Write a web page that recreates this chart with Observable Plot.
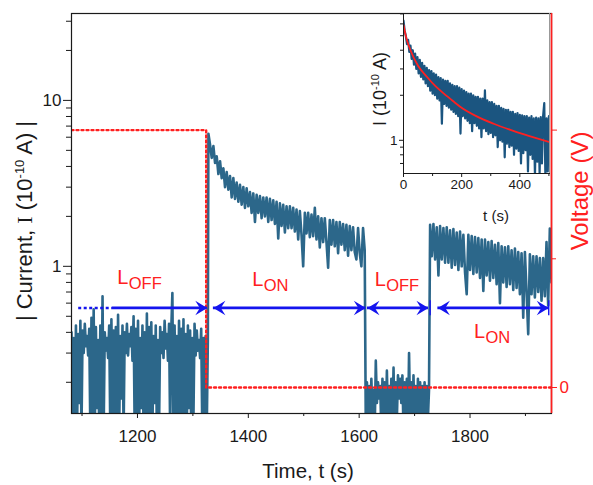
<!DOCTYPE html>
<html><head><meta charset="utf-8">
<script src="https://cdn.jsdelivr.net/npm/d3@7"></script>
<script src="https://cdn.jsdelivr.net/npm/@observablehq/plot@0.6"></script>
<style>
body{margin:0;background:#fff;}
#wrap{position:relative;width:593px;height:485px;}
#wrap svg{position:absolute;}
</style></head><body><div id="wrap"></div>
<script>
// ---------- data ----------
const xDomain = [1081, 1947];
const yDomain = [0.1297, 33.4];
const vDomain = [-0.101, 1.453];
const xMajor = [1200, 1400, 1600, 1800];
const xMinor = [1100, 1300, 1500, 1700, 1900];
const yMajor = [1, 10];
const yMinor = [0.2,0.3,0.4,0.5,0.6,0.7,0.8,0.9,2,3,4,5,6,7,8,9,20,30];
const vMajor = [0, 1];
const vMinor = [0.5];

// current trace (segments: L_OFF, L_ON, L_OFF, L_ON)
const segOff1 = {start: 1081, step: 2, values: [
0.40,0.10,0.37,0.12,0.44,0.10,0.39,0.15,0.47,0.10,
0.41,0.30,0.45,0.33,0.38,0.29,0.42,0.10,0.49,0.12,
0.55,0.10,0.43,0.14,0.36,0.10,0.44,0.11,0.66,0.10,
0.40,0.31,0.37,0.28,0.44,0.10,0.48,0.13,0.41,0.10,
0.43,0.11,0.51,0.10,0.38,0.16,0.44,0.10,0.40,0.30,
0.45,0.29,0.39,0.33,0.43,0.27,0.50,0.10,0.42,0.12,
0.47,0.10,0.37,0.14,0.44,0.10,0.40,0.11,0.52,0.10,
0.43,0.12,0.46,0.10,0.38,0.15,0.44,0.10,0.36,0.11,
0.43,0.30,0.40,0.28,0.47,0.32,0.39,0.27,0.45,0.10,
0.42,0.69,0.10,0.44,0.12,0.38,0.10,0.47,0.13,0.42,
0.10,0.48,0.11,0.39,0.10,0.44,0.14,0.41,0.10,0.37,
0.12,0.45,0.29,0.41,0.31,0.36,0.28,0.42,0.10,0.37,
0.12,0.38,0.10,0.36]};
const segOn1 = {start: 1328, step: 3, values: [
6.3,5.4,4.5,5.3,4.2,4.6,3.6,4.3,3.4,3.9,3.0,3.7,2.9,3.5,2.6,3.4,2.55,3.2,2.45,3.1,
2.35,3.0,2.25,2.95,2.3,2.8,2.1,2.75,1.85,2.7,2.1,2.65,1.95,2.6,2.0,2.6,1.85,2.55,1.9,2.5,
1.8,2.45,1.47,2.4,1.75,2.35,1.6,2.3,1.7,2.3,1.7,2.25,1.62,2.2,1.45,2.15,1.55,1.0,2.1,1.58,
2.1,1.5,2.05,1.52,2.25,1.45,2.0,1.3,1.95,1.4,1.95,1.4,0.98,1.9,1.35,1.9,1.32,1.85,1.2,1.85,
1.35,1.8,1.25,1.78,1.16,1.75,1.25,1.72,1.22,1.1,1.7,1.2,1.0,1.7,1.25]};
const segOff2 = {start: 1612, step: 2, values: [
0.10,0.20,0.11,0.19,0.10,0.21,0.12,0.18,0.10,0.27,
0.15,0.20,0.16,0.19,0.10,0.21,0.11,0.20,0.10,0.235,
0.12,0.19,0.10,0.21,0.11,0.245,0.10,0.20,0.12,0.22,
0.16,0.21,0.15,0.22,0.10,0.20,0.11,0.21,0.10,0.30,
0.12,0.20,0.10,0.22,0.11,0.19,0.10,0.21,0.12,0.20,
0.10,0.19,0.11,0.20,0.10,0.19,0.12,0.18]};
const segOn2 = {start: 1728, step: 3, values: [
1.78,1.15,1.8,1.1,1.72,0.88,1.75,1.1,1.7,1.05,1.72,1.05,1.65,0.98,1.68,1.02,1.6,0.95,1.62,1.0,
1.55,0.92,0.68,1.55,0.95,1.52,0.9,1.5,0.92,1.48,0.85,1.45,0.71,1.45,0.88,1.4,0.82,1.42,0.85,1.35,
0.78,1.38,0.6,1.32,0.8,1.3,0.75,1.32,0.78,1.25,0.72,1.28,0.74,1.22,0.68,1.2,0.49,1.22,0.7,0.39,
1.18,0.68,1.15,0.65,1.15,0.7,1.12,0.62,1.12,0.66,1.4,0.58,1.69,0.8]};

// applied voltage (V)
const voltageT = [1081, 1324, 1324, 1947];
const voltageV = [1, 1, 0, 0];

// annotation arrows (time, s) and their level (current units)
const arrowLevel = 0.561;
const arrowTickLow = 0.504, arrowTickHigh = 0.621;
const arrowSolid = [[1155, 1326], [1337, 1612], [1615, 1725], [1742, 1942]];
const arrowDotted = [[1094, 1155]];
const arrowHeadT = [1326, 1337, 1612, 1615, 1725, 1742, 1942];
const arrowHeadDir = ["right", "left", "right", "left", "right", "left", "right"];
const arrowStops = [1728, 1942];

// labels L_OFF / L_ON
const labelT = [1163.5, 1407, 1628, 1807];
const labelI = [0.783, 0.765, 0.765, 0.370];
const labelSub = ["OFF", "ON", "OFF", "ON"];

// inset: decay of current under light, sampled every 4 s
const insetStart = 0, insetStep = 4;
const insetValues = [
6.3,5.4,5.0,4.4,4.7,3.9,4.3,3.5,4.0,3.2,3.8,3.0,3.6,2.8,3.45,2.65,3.3,2.55,3.15,2.4,
3.05,2.3,2.95,2.15,2.9,2.05,2.8,2.0,2.75,1.9,2.65,1.85,2.6,1.29,2.55,1.75,2.5,1.7,2.5,1.65,
2.4,1.6,2.35,1.55,2.3,1.5,2.3,1.45,2.25,1.11,2.2,1.45,2.15,1.4,2.1,1.35,2.05,1.3,2.05,1.15,
2.0,1.3,1.95,1.25,1.95,1.2,1.9,1.05,1.9,1.2,2.16,1.15,1.85,1.1,1.8,1.12,1.8,1.05,1.75,1.08,
1.7,0.9,1.7,1.0,1.65,0.98,1.62,0.77,1.6,0.95,1.6,0.9,1.55,0.92,1.55,0.8,1.5,0.88,1.52,0.85,
1.48,0.7,1.47,0.82,1.45,0.86,1.45,0.62,1.42,0.8,1.45,0.75,1.4,0.58,1.42,0.72,1.4,0.6,1.43,0.7,
1.45,1.77,0.55,1.4,0.62,1.45];
const fitT = [0, 10, 24, 50, 81, 110, 139, 170, 196, 250, 310, 370, 425, 500];
const fitI = [5.9, 4.8, 4.0, 3.15, 2.65, 2.3, 2.05, 1.83, 1.67, 1.45, 1.29, 1.17, 1.08, 0.975];
const insetX = [0, 502];
const insetY = [0.6, 7.04];
const insetXMajor = [0, 200, 400];
const insetXMinor = [100, 300, 500];
const insetYMajor = [1];
const insetYMinor = [0.7, 0.8, 0.9, 2, 3, 4, 5, 6, 7];

// ---------- build ----------
const FONT = '"Liberation Sans", Arial, Helvetica, sans-serif';
const BLUE = "#1414ee", RED = "#ff2020", TRACE = "#2c678a", TRACE2 = "#1b5580", INK = "#1a1a1a";

const expand = s => s.values.map((v, k) => ({t: s.start + k * s.step, i: v}));
const mainData = [segOff1, segOn1, segOff2, segOn2].flatMap(expand);
const voltage = voltageT.map((t, k) => ({t, v: voltageV[k]}));
const lg = d3.scaleLinear().domain(vDomain).range(yDomain.map(Math.log10));
const vToI = v => 10 ** lg(v);
const iToV = i => lg.invert(Math.log10(i));
const heads = arrowHeadT.map((t, k) => ({t, dir: arrowHeadDir[k]}));
const labels = labelT.map((t, k) => ({t, i: labelI[k], sub: labelSub[k]}));
const insetData = insetValues.map((v, k) => ({t: insetStart + k * insetStep, i: v}));
const fit = fitT.map((t, k) => ({t, i: fitI[k]}));

const headSym = {draw(ctx, size) {
  const r = Math.sqrt(size / Math.PI);
  ctx.moveTo(0, 0); ctx.lineTo(-r, -0.6 * r); ctx.lineTo(-0.62 * r, 0); ctx.lineTo(-r, 0.6 * r); ctx.closePath();
}};

const main = Plot.plot({
  width: 593, height: 485, marginLeft: 71, marginRight: 42, marginTop: 13, marginBottom: 72,
  style: {fontFamily: FONT, color: INK, background: "transparent"},
  x: {domain: xDomain},
  y: {type: "log", domain: yDomain},
  marks: [
    Plot.axisX(xMajor, {tickSize: 5, tickPadding: 11, fontSize: 17, tickFormat: d => String(d), label: null}),
    Plot.axisX(xMinor, {tickSize: 3, tickFormat: () => "", label: null}),
    Plot.axisY(yMajor, {tickSize: 8, tickPadding: 2, fontSize: 17, tickFormat: d => String(d), label: null}),
    Plot.axisY(yMinor, {tickSize: 5, tickFormat: () => "", label: null}),
    Plot.axisY(vMajor.map(vToI), {anchor: "right", tickSize: 5, tickPadding: 3, fontSize: 17, color: RED,
      tickFormat: d => String(Math.round(iToV(d))), label: null}),
    Plot.axisY(vMinor.map(vToI), {anchor: "right", tickSize: 4, color: RED, tickFormat: () => "", label: null}),
    Plot.line(mainData, {x: "t", y: "i", stroke: TRACE, strokeWidth: 2.6, clip: true}),
    Plot.line(voltage, {x: "t", y: d => vToI(d.v), stroke: RED, strokeWidth: 2.4, strokeDasharray: "2,3", clip: true}),
    Plot.ruleY(arrowDotted, {y: () => arrowLevel, x1: d => d[0], x2: d => d[1], stroke: BLUE, strokeWidth: 2.6, strokeDasharray: "3,2.5"}),
    Plot.ruleY(arrowSolid, {y: () => arrowLevel, x1: d => d[0], x2: d => d[1], stroke: BLUE, strokeWidth: 2.8}),
    Plot.ruleX(arrowStops, {x: d => d, y1: () => arrowTickLow, y2: () => arrowTickHigh, stroke: BLUE, strokeWidth: 1.4}),
    Plot.dot(heads, {x: "t", y: () => arrowLevel, symbol: headSym, r: 12, fill: BLUE, stroke: "none",
      rotate: d => d.dir === "right" ? 0 : 180}),
    Plot.text(labels, {x: "t", y: "i", text: () => "L", fontSize: 20, fill: RED, textAnchor: "start", lineAnchor: "bottom"}),
    Plot.text(labels, {x: "t", y: "i", text: "sub", fontSize: 16.5, fill: RED, textAnchor: "start", lineAnchor: "bottom", dx: 11.5, dy: 5}),
    Plot.frame({stroke: INK, strokeWidth: 1.2}),
    Plot.ruleX([xDomain[1]], {stroke: RED, strokeWidth: 1.7})
  ]
});

const inset = Plot.plot({
  width: 210, height: 230, marginLeft: 60, marginRight: 4, marginTop: 13, marginBottom: 57,
  style: {fontFamily: FONT, color: INK, background: "transparent", overflow: "visible"},
  x: {domain: insetX},
  y: {type: "log", domain: insetY},
  marks: [
    Plot.axisX(insetXMajor, {tickSize: 4, tickPadding: 2, fontSize: 13.5, tickFormat: d => String(d), label: null}),
    Plot.axisX(insetXMinor, {tickSize: 3, tickFormat: () => "", label: null}),
    Plot.axisY(insetYMajor, {tickSize: 4, tickPadding: 2, fontSize: 13.5, tickFormat: d => String(d), label: null}),
    Plot.axisY(insetYMinor, {tickSize: 3, tickFormat: () => "", label: null}),
    Plot.line(insetData, {x: "t", y: "i", stroke: TRACE2, strokeWidth: 2.2, clip: true}),
    Plot.line(fit, {x: "t", y: "i", stroke: RED, strokeWidth: 1.8, curve: "monotone-x", clip: true}),
    Plot.frame({stroke: INK, strokeWidth: 1}),
    Plot.ruleX([insetX[1]], {stroke: "#999", strokeWidth: 1})
  ]
});

const wrap = document.getElementById("wrap");
main.style.left = "0px"; main.style.top = "0px";
inset.style.left = "343px"; inset.style.top = "0px";
wrap.appendChild(main);
wrap.appendChild(inset);

function addText(svg, {x, y, rotate = 0, anchor = "middle", size, fill = INK, parts}) {
  const t = d3.select(svg).append("text")
    .attr("transform", `translate(${x},${y}) rotate(${rotate})`)
    .attr("text-anchor", anchor).attr("font-size", size).attr("fill", fill)
    .attr("font-family", FONT).style("white-space", "pre");
  for (const p of parts) {
    const s = t.append("tspan").text(p.text);
    if (p.size) s.attr("font-size", p.size);
    if (p.dy) s.attr("dy", p.dy);
    if (p.family) s.attr("font-family", p.family);
  }
}
addText(main, {x: 32, y: 221, rotate: -90, size: 22, parts: [
  {text: "| Current, "}, {text: "I", family: '"Liberation Serif", serif'}, {text: " (10"},
  {text: "-10", size: 13, dy: -8}, {text: " A) |", dy: 8}]});
addText(main, {x: 308, y: 478, size: 20.5, parts: [{text: "Time, t (s)"}]});
addText(main, {x: 588, y: 191, rotate: -90, size: 24, fill: RED, parts: [{text: "Voltage (V)"}]});
addText(inset, {x: 43, y: 89, rotate: -90, size: 18, parts: [
  {text: "I (10"}, {text: "-10", size: 11, dy: -7}, {text: " A)", dy: 7}]});
addText(inset, {x: 153, y: 221, size: 15, parts: [{text: "t (s)"}]});
</script></body></html>
